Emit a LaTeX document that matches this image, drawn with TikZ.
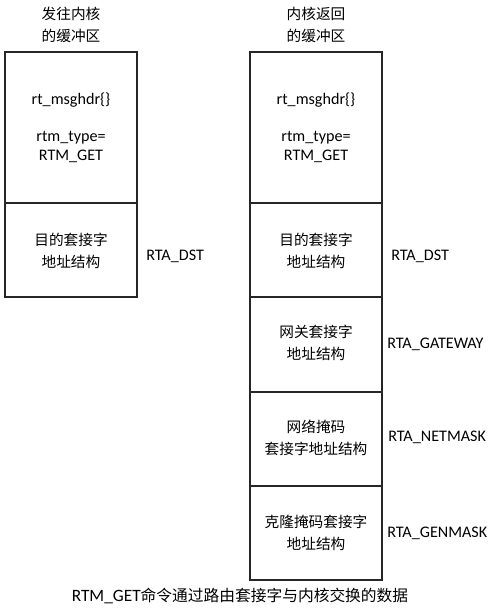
\documentclass[tikz,border=0pt]{standalone}
\usepackage{fontspec}
\setmainfont{Carlito}[Scale=1.1]
\newfontfamily\cjk{Noto Sans CJK SC}
\usetikzlibrary{positioning}

\begin{document}
\begin{tikzpicture}[x=0.75pt,y=-0.75pt,
  every node/.style={font=\fontsize{11pt}{16.5pt}\selectfont,align=center,inner sep=0pt},
  cell/.style={draw=black!85,line width=1.1pt},
  latin/.style={font=\fontsize{11pt}{14.6pt}\selectfont},
  tag/.style={anchor=west}]
\useasboundingbox (0,0) rectangle (495,614);
% left buffer
\node (lhead) at (71,25) {\cjk 发往内核\\ \cjk 的缓冲区};
\draw[cell] (5,52) rectangle (137,203);
\draw[cell] (5,203) rectangle (137,297);
\node (lhdr) at (71,100) {rt\_msghdr\{\}};
\node[latin] (ltype) at (71,147) {rtm\_type=\\RTM\_GET};
\node (ldst) at (71,251) {\cjk 目的套接字\\ \cjk 地址结构};
\node[tag] (ldsttag) at (146,256) {RTA\_DST};
% right buffer
\node (rhead) at (316,25) {\cjk 内核返回\\ \cjk 的缓冲区};
\draw[cell] (250,52) rectangle (382,203);
\draw[cell] (250,203) rectangle (382,297);
\draw[cell] (250,297) rectangle (382,392);
\draw[cell] (250,392) rectangle (382,486);
\draw[cell] (250,486) rectangle (382,580);
\node (rhdr) at (316,100) {rt\_msghdr\{\}};
\node[latin] (rtype) at (316,147) {rtm\_type=\\RTM\_GET};
\node (rdst) at (316,251) {\cjk 目的套接字\\ \cjk 地址结构};
\node (rgw) at (316,343) {\cjk 网关套接字\\ \cjk 地址结构};
\node (rmask) at (316,438) {\cjk 网络掩码\\ \cjk 套接字地址结构};
\node (rgen) at (316,533) {\cjk 克隆掩码套接字\\ \cjk 地址结构};
\node[tag] (rdsttag) at (391,256) {RTA\_DST};
\node[tag] (rgwtag) at (387,344) {RTA\_GATEWAY};
\node[tag] (rmasktag) at (388,437) {RTA\_NETMASK};
\node[tag] (rgentag) at (387,533) {RTA\_GENMASK};
% caption
\node[font=\fontsize{11.8pt}{14pt}\selectfont] (caption) at (240,596) {RTM\_GET{\cjk 命令通过路由套接字与内核交换的数据}};
\end{tikzpicture}
\end{document}
